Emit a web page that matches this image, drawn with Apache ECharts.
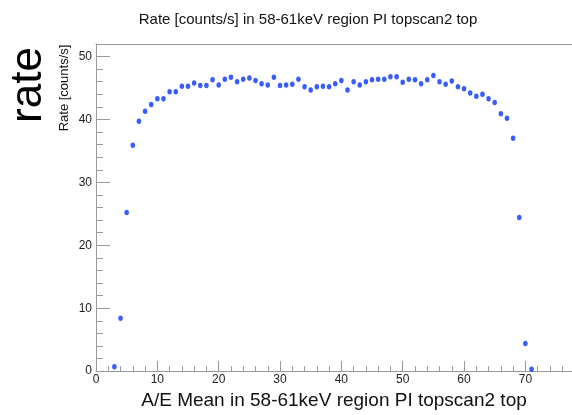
<!DOCTYPE html>
<html>
<head>
<meta charset="utf-8">
<script src="https://cdn.jsdelivr.net/npm/echarts@6/dist/echarts.min.js"></script>
<style>html,body{margin:0;padding:0;background:#fff}#c{width:572px;height:415px}</style>
</head>
<body>
<div id="c"></div>
<script>
const xValues = [3,4,5,6,7,8,9,10,11,12,13,14,15,16,17,18,19,20,21,22,23,24,25,26,27,28,29,30,31,32,33,34,35,36,37,38,39,40,41,42,43,44,45,46,47,48,49,50,51,52,53,54,55,56,57,58,59,60,61,62,63,64,65,66,67,68,69,70,71];
const rates = [0.7,8.4,25.2,35.9,39.7,41.3,42.4,43.3,43.3,44.4,44.4,45.3,45.3,45.8,45.4,45.4,46.3,45.5,46.4,46.7,46.0,46.4,46.6,46.2,45.7,45.5,46.7,45.4,45.5,45.6,46.4,45.2,44.7,45.2,45.3,45.2,45.7,46.2,44.7,46.0,45.5,46.0,46.3,46.4,46.4,46.8,46.8,45.9,46.4,46.3,45.7,46.3,47.0,46.0,45.6,46.1,45.2,44.9,44.2,43.7,44.0,43.3,42.7,40.9,40.2,37.0,24.4,4.4,0.3];
const xTicks = [0,10,20,30,40,50,60,70];
const yTicks = [0,10,20,30,40,50];
const titleText = 'Rate [counts/s] in 58-61keV region PI topscan2 top';
const xTitle = 'A/E Mean in 58-61keV region PI topscan2 top';
const yTitle = 'Rate [counts/s]';
const sideLabel = 'rate';

const FONT = '"Liberation Sans", Arial, Helvetica, sans-serif';
const AX = '#9a9a9a';
const chart = echarts.init(document.getElementById('c'), null, {renderer: 'canvas'});
const points = xValues.map((x, i) => [x, rates[i]]);
chart.setOption({
  animation: false,
  backgroundColor: '#fff',
  textStyle: {fontFamily: FONT},
  title: {
    text: titleText, left: 303, top: 7, textAlign: 'center',
    textStyle: {fontSize: 15, fontWeight: 'normal', color: '#111', fontFamily: FONT}
  },
  grid: {left: 96, right: 0, top: 44, bottom: 40, containLabel: false},
  xAxis: [{
    type: 'value', min: 0, max: 77.6, interval: 10,
    name: xTitle, nameLocation: 'middle', nameGap: 16,
    nameTextStyle: {fontSize: 19, color: '#111', fontFamily: FONT},
    axisLine: {show: true, lineStyle: {color: AX, width: 1}},
    axisTick: {show: true, inside: true, length: 10, lineStyle: {color: AX}},
    minorTick: {show: true, splitNumber: 5, length: 5, lineStyle: {color: AX}},
    axisLabel: {fontSize: 12, color: '#222', margin: 3, showMaxLabel: false,
      formatter: v => xTicks.includes(v) ? String(v) : ''},
    splitLine: {show: false}
  }, {
    type: 'value', position: 'top', min: 0, max: 77.6,
    axisLine: {show: true, lineStyle: {color: AX, width: 1}},
    axisTick: {show: false}, axisLabel: {show: false}, splitLine: {show: false}
  }],
  yAxis: {
    type: 'value', min: 0, max: 52, interval: 10,
    axisLine: {show: true, lineStyle: {color: AX, width: 1}},
    axisTick: {show: true, inside: true, length: 14, lineStyle: {color: AX}},
    minorTick: {show: true, splitNumber: 5, length: 7, lineStyle: {color: AX}},
    axisLabel: {fontSize: 12, color: '#222', margin: 4, showMaxLabel: false,
      formatter: v => yTicks.includes(v) ? String(v) : ''},
    splitLine: {show: false}
  },
  graphic: [
    {type: 'text', x: 29, y: 85, rotation: Math.PI / 2,
      style: {text: sideLabel, font: '44px ' + FONT, fill: '#000', align: 'center', verticalAlign: 'middle'}},
    {type: 'text', x: 64, y: 88, rotation: Math.PI / 2,
      style: {text: yTitle, font: '13px ' + FONT, fill: '#111', align: 'center', verticalAlign: 'middle'}}
  ],
  series: [{
    type: 'scatter', data: points, symbol: 'circle', symbolSize: [4.5, 5.5],
    itemStyle: {color: '#0633ff'}
  }]
});
</script>
</body>
</html>
